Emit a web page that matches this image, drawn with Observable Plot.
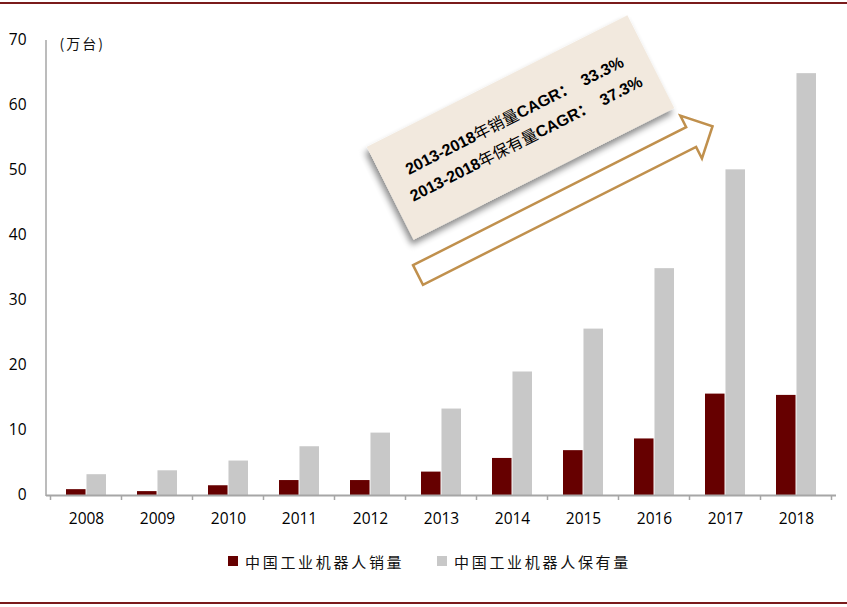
<!DOCTYPE html>
<html>
<head>
<meta charset="utf-8">
<script src="https://cdn.jsdelivr.net/npm/d3@7"></script>
<script src="https://cdn.jsdelivr.net/npm/@observablehq/plot@0.6"></script>
<style>
  html, body { margin: 0; padding: 0; background: #fff; }
  #wrap { position: relative; width: 847px; height: 607px; overflow: hidden; background: #fff; }
  .redline { position: absolute; left: 0; width: 847px; height: 2px; background: #7a1b1b; }
  .leg { position: absolute; top: 551px; height: 20px; display: flex; align-items: center;
         font-family: "Noto Sans CJK SC", sans-serif; font-size: 15px; letter-spacing: 2.7px; color: #111; white-space: nowrap; }
  .leg i { display: inline-block; width: 10px; height: 10px; margin-right: 7px; }
</style>
</head>
<body>
<div id="wrap">
  <div class="redline" style="top:2px"></div>
  <div id="chart"></div>
  <div class="leg" style="left:228px"><i style="background:#660000"></i><span id="l1"></span></div>
  <div class="leg" style="left:437px"><i style="background:#c8c8c8"></i><span id="l2"></span></div>
  <div class="redline" style="top:602px"></div>
</div>
<script>
// ---- data ----
const years = ["2008","2009","2010","2011","2012","2013","2014","2015","2016","2017","2018"];
const sales = [0.9, 0.6, 1.5, 2.3, 2.3, 3.6, 5.7, 6.9, 8.7, 15.6, 15.4];   // 中国工业机器人销量 (万台)
const stock = [3.2, 3.8, 5.3, 7.5, 9.6, 13.3, 19.0, 25.6, 34.9, 50.1, 64.9]; // 中国工业机器人保有量 (万台)
const yTicks = [0, 10, 20, 30, 40, 50, 60, 70];
const seriesNames = ["中国工业机器人销量", "中国工业机器人保有量"];
const unitLabel = "(万台)";
const cagrLines = [
  ["2013-2018", "年销量", "CAGR：  33.3%"],
  ["2013-2018", "年保有量", "CAGR：  37.3%"]
];

const salesData = years.map((y, i) => ({year: y, value: sales[i]}));
const stockData = years.map((y, i) => ({year: y, value: stock[i]}));

const W = 847, H = 540, mL = 46, mR = 11, mT = 40, mB = 45;
const pIn = 0.43;
const step = (W - mL - mR) / years.length;
const half = step * (1 - pIn) / 2;

const plot = Plot.plot({
  width: W, height: H,
  marginLeft: mL, marginRight: mR, marginTop: mT, marginBottom: mB,
  style: {fontFamily: "'Open Sans', sans-serif", fontSize: "15.5px", color: "#000", background: "transparent", overflow: "visible"},
  x: {domain: years, paddingInner: pIn, paddingOuter: pIn / 2, label: null},
  y: {domain: [0, 70], label: null},
  marks: [
    Plot.barY(salesData, {x: "year", y: "value", fill: "#660000", insetRight: half}),
    Plot.barY(stockData, {x: "year", y: "value", fill: "#c8c8c8", insetLeft: half}),
    Plot.ruleY([0], {stroke: "#a6a6a6", strokeWidth: 2}),
    Plot.axisX({tickSize: 0, tickPadding: 17, fontSize: 15.5}),
    Plot.axisY({ticks: yTicks, tickSize: 0, tickPadding: 20, fontSize: 15.5}),
    Plot.text([unitLabel], {frameAnchor: "top-left", textAnchor: "start", lineAnchor: "middle",
      dx: 13, dy: 4, fontSize: 14, fontFamily: "'Noto Sans CJK SC', sans-serif", fill: "#111"})
  ]
});
document.getElementById("chart").appendChild(plot);
document.getElementById("l1").textContent = seriesNames[0];
document.getElementById("l2").textContent = seriesNames[1];

const svg = d3.select(plot);
svg.selectAll("text").filter(function() { return this.textContent === unitLabel; })
  .attr("letter-spacing", "2px");

// ---- axis decorations from the scales ----
const xs = plot.scale("x"), ys = plot.scale("y");
const y0 = ys.apply(0), yTop = ys.apply(70);
const gap = (xs.step - xs.bandwidth) / 2;
const bounds = years.map(y => xs.apply(y) - gap);
bounds.push(xs.apply(years[years.length - 1]) + xs.bandwidth + gap);
const g = svg.append("g");
g.append("line").attr("x1", mL).attr("x2", mL).attr("y1", yTop).attr("y2", y0 + 1)
  .attr("stroke", "#a6a6a6").attr("stroke-width", 1.5);
g.selectAll("line.t").data(bounds).join("line").attr("class", "t")
  .attr("x1", d => d).attr("x2", d => d).attr("y1", y0).attr("y2", y0 + 5)
  .attr("stroke", "#a6a6a6").attr("stroke-width", 1.5);

// ---- CAGR annotation ----
const defs = svg.append("defs");
const f = defs.append("filter").attr("id", "shadow").attr("x", "-20%").attr("y", "-30%").attr("width", "140%").attr("height", "160%");
f.append("feDropShadow").attr("dx", -4).attr("dy", 4).attr("stdDeviation", 3)
  .attr("flood-color", "#000").attr("flood-opacity", 0.45);

const ang = -26.8;
const arrow = svg.append("g").attr("transform", `translate(418,275) rotate(${ang})`);
arrow.append("polygon")
  .attr("points", "0,-11 306,-11 306,-24 330,0 306,24 306,11 0,11")
  .attr("fill", "#fff").attr("stroke", "#c0904d").attr("stroke-width", 2.5).attr("stroke-linejoin", "miter");
const box = svg.append("g").attr("transform", `translate(520.5,127.5) rotate(${ang})`);
box.append("rect").attr("x", -146).attr("y", -52).attr("width", 292).attr("height", 104)
  .attr("fill", "#f2e9de").attr("filter", "url(#shadow)");
const t = box.append("text").attr("text-anchor", "middle")
  .attr("font-family", "'Liberation Sans', 'Noto Sans CJK SC', sans-serif")
  .attr("font-size", 16).attr("font-weight", "bold").attr("fill", "#000");
cagrLines.forEach((parts, i) => {
  const line = t.append("tspan").attr("x", 0).attr("y", i === 0 ? -8 : 18);
  line.append("tspan").text(parts[0]);
  line.append("tspan").attr("font-family", "'Noto Sans CJK SC', sans-serif").attr("font-weight", 400).text(parts[1]);
  line.append("tspan").text(parts[2]);
});
</script>
</body>
</html>
